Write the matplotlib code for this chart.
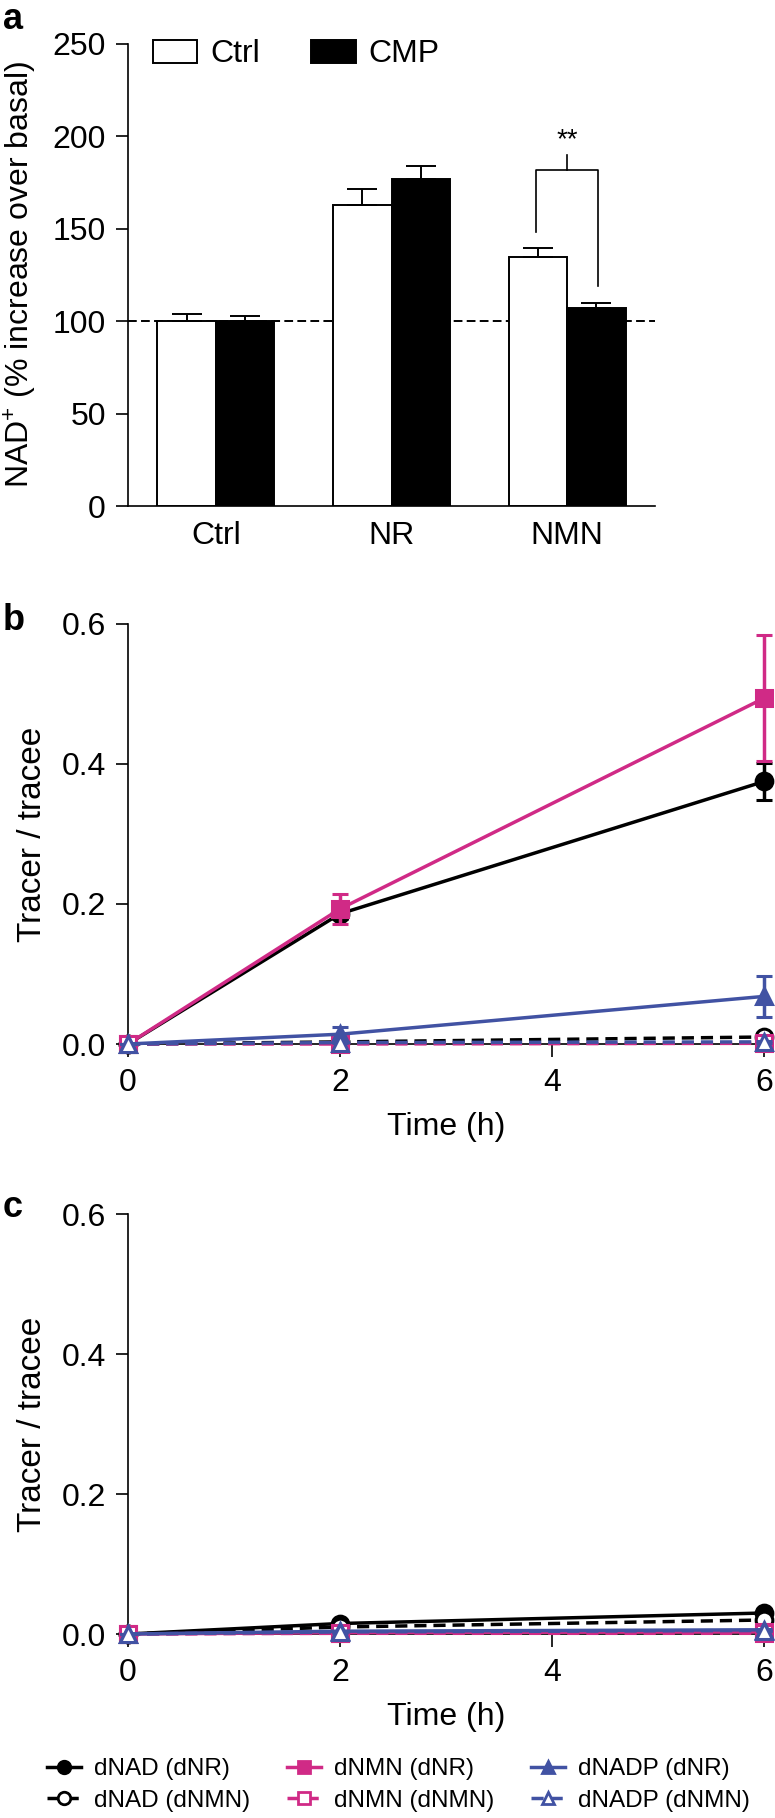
import numpy as np
import matplotlib.pyplot as plt
from matplotlib.lines import Line2D

plt.rcParams['font.family'] = ['Liberation Sans', 'DejaVu Sans']
plt.rcParams['mathtext.fontset'] = 'custom'
plt.rcParams['mathtext.rm'] = 'Liberation Sans'
plt.rcParams['axes.linewidth'] = 1.2

# ---- panel a data (NAD+ % over basal) ----
groups = ['Ctrl', 'NR', 'NMN']
ctrl_mean = [100, 163, 135]
ctrl_sem = [4, 8.5, 4.8]
cmp_mean = [100, 177, 107]
cmp_sem = [3, 7, 3]
sig_low = [148, 119]     # bracket leg ends (Ctrl bar, CMP bar) for NMN
sig_top = 182

# ---- panels b/c data (tracer / tracee) ----
time_h = [0, 2, 6]
series_labels = ['dNAD (dNR)', 'dNAD (dNMN)', 'dNMN (dNR)',
                 'dNMN (dNMN)', 'dNADP (dNR)', 'dNADP (dNMN)']

b_nad_nr = [0, 0.186, 0.375]
b_nad_nr_err = [0, 0.008, 0.027]
b_nad_nmn = [0, 0.003, 0.010]
b_nad_nmn_err = [0, 0.001, 0.002]
b_nmn_nr = [0, 0.193, 0.494]
b_nmn_nr_err = [0, 0.022, 0.090]
b_nmn_nmn = [0, 0.000, 0.001]
b_nmn_nmn_err = [0, 0.001, 0.001]
b_nadp_nr = [0, 0.014, 0.068]
b_nadp_nr_err = [0, 0.011, 0.029]
b_nadp_nmn = [0, 0.002, 0.003]
b_nadp_nmn_err = [0, 0.001, 0.001]

c_nad_nr = [0, 0.015, 0.030]
c_nad_nr_err = [0, 0.002, 0.003]
c_nad_nmn = [0, 0.010, 0.020]
c_nad_nmn_err = [0, 0.001, 0.002]
c_nmn_nr = [0, 0.002, 0.003]
c_nmn_nr_err = [0, 0.001, 0.001]
c_nmn_nmn = [0, 0.001, 0.001]
c_nmn_nmn_err = [0, 0.001, 0.001]
c_nadp_nr = [0, 0.004, 0.006]
c_nadp_nr_err = [0, 0.001, 0.001]
c_nadp_nmn = [0, 0.003, 0.005]
c_nadp_nmn_err = [0, 0.001, 0.001]

magenta = '#d02a86'
blue = '#4152a3'
colors = ['black', 'black', magenta, magenta, blue, blue]
markers = ['o', 'o', 's', 's', '^', '^']
filled = [True, False, True, False, True, False]
dash = (0, (3.5, 2))

W, H = 775, 1818
fig = plt.figure(figsize=(W / 100, H / 100), dpi=100)


def rect(left, top, right, bottom):
    return [left / W, 1 - bottom / H, (right - left) / W, (bottom - top) / H]


def style(ax):
    for s in ['top', 'right']:
        ax.spines[s].set_visible(False)
    ax.tick_params(direction='out', length=9, width=1.2, labelsize=23, pad=7)


# ---------------- panel a ----------------
ax = fig.add_axes(rect(128, 44, 655, 506))
style(ax)
x = np.arange(len(groups))
w = 0.333
ax.axhline(100, ls=(0, (4.5, 2.2)), color='black', lw=1.4, zorder=1)
ax.bar(x - w / 2, ctrl_mean, w, color='white', edgecolor='black', lw=1.4,
       zorder=3, label='Ctrl')
ax.bar(x + w / 2, cmp_mean, w, color='black', edgecolor='black', lw=1.4,
       zorder=3, label='CMP')
ax.errorbar(x - w / 2, ctrl_mean, yerr=[np.zeros(3), ctrl_sem], fmt='none',
            ecolor='black', elinewidth=1.4, capsize=10.5, capthick=1.4, zorder=4)
ax.errorbar(x + w / 2, cmp_mean, yerr=[np.zeros(3), cmp_sem], fmt='none',
            ecolor='black', elinewidth=1.4, capsize=10.5, capthick=1.4, zorder=4)
xl, xr = 2 - 0.175, 2 + 0.175
ax.plot([xl, xl, xr, xr], [sig_low[0], sig_top, sig_top, sig_low[1]],
        color='black', lw=1.2)
ax.plot([2, 2], [sig_top, sig_top + 8], color='black', lw=1.2)
ax.text(2, sig_top + 9, '**', ha='center', va='bottom', fontsize=20)
ax.set_xlim(-0.5, 2.5)
ax.set_ylim(0, 250)
ax.set_yticks(range(0, 251, 50))
ax.set_xticks(x)
ax.set_xticklabels(groups)
ax.tick_params(axis='x', length=0, pad=11)
ax.set_ylabel('NAD$^{+}$ (% increase over basal)', fontsize=23)
ax.yaxis.set_label_coords(-0.17, 0.5)
ax.legend(loc='upper left', bbox_to_anchor=(0.047, 1.01), ncol=2,
          frameon=False, handlelength=1.4, handleheight=0.75,
          handletextpad=0.4, columnspacing=1.6, borderpad=0,
          borderaxespad=0, fontsize=23)
fig.text(0.004, 0.999, 'a', fontsize=26, fontweight='bold', va='top')

# ---------------- panels b and c ----------------
b_vals = [b_nad_nr, b_nad_nmn, b_nmn_nr, b_nmn_nmn, b_nadp_nr, b_nadp_nmn]
b_errs = [b_nad_nr_err, b_nad_nmn_err, b_nmn_nr_err, b_nmn_nmn_err,
          b_nadp_nr_err, b_nadp_nmn_err]
c_vals = [c_nad_nr, c_nad_nmn, c_nmn_nr, c_nmn_nmn, c_nadp_nr, c_nadp_nmn]
c_errs = [c_nad_nr_err, c_nad_nmn_err, c_nmn_nr_err, c_nmn_nmn_err,
          c_nadp_nr_err, c_nadp_nmn_err]

panels = [(rect(128, 624, 764, 1044), b_vals, b_errs, 'b', 603),
          (rect(128, 1214, 764, 1634), c_vals, c_errs, 'c', 1190)]

for pos, vals, errs, letter, ly in panels:
    ax = fig.add_axes(pos)
    style(ax)
    for i in range(6):
        c = colors[i]
        cont = ax.errorbar(time_h, vals[i], yerr=errs[i], color=c,
                           marker=markers[i], ms=12,
                           mfc=c if filled[i] else 'white', mec=c, mew=2.2,
                           lw=2.5, ls='-' if filled[i] else dash,
                           capsize=5.5, capthick=2.5, elinewidth=2.5,
                           zorder=3 + i)
        for art in cont.get_children():
            art.set_clip_on(False)
    ax.set_xlim(0, 6)
    ax.set_ylim(0, 0.6)
    ax.set_xticks([0, 2, 4, 6])
    ax.set_yticks([0, 0.2, 0.4, 0.6])
    ax.set_yticklabels(['0.0', '0.2', '0.4', '0.6'])
    ax.tick_params(axis='x', pad=8)
    ax.set_xlabel('Time (h)', fontsize=23, labelpad=10)
    ax.set_ylabel('Tracer / tracee', fontsize=24)
    ax.yaxis.set_label_coords(-0.125, 0.5)
    fig.text(0.004, 1 - ly / H, letter, fontsize=26, fontweight='bold',
             va='top')

handles = []
for i in range(6):
    c = colors[i]
    handles.append(Line2D([], [], color=c, marker=markers[i], ms=9,
                          mfc=c if filled[i] else 'white', mec=c, mew=2,
                          lw=2.5, ls='-' if filled[i] else dash))
fig.legend(handles, series_labels, ncol=3, loc='center left',
           bbox_to_anchor=(47 / W, 1 - 1785 / H), frameon=False,
           handlelength=1.4, handletextpad=0.55, columnspacing=1.5,
           labelspacing=0.4, borderpad=0, borderaxespad=0, fontsize=17.5)

fig.savefig('out.png', dpi=100)
